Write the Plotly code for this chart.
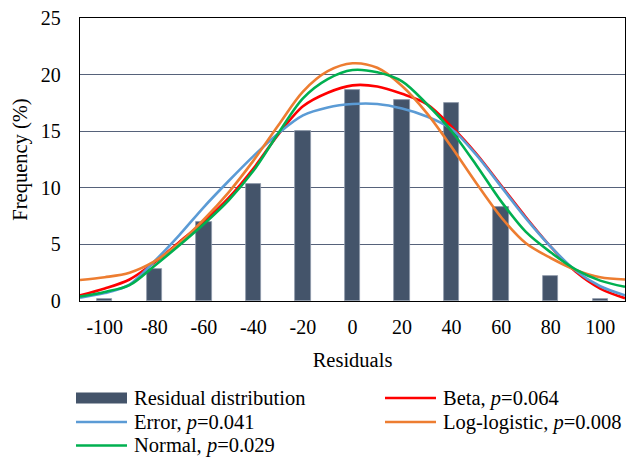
import plotly.graph_objects as go

# Residual histogram (percentage of observations per 20-unit bin)
bin_centers = [-100, -80, -60, -40, -20, 0, 20, 40, 60, 80, 100]
frequency = [0.2, 2.8, 7.0, 10.3, 15.0, 18.6, 17.8, 17.5, 8.3, 2.2, 0.15]

# Fitted distribution curves, sampled along the residual axis
curve_x = [-110, -100, -90, -80, -70, -60, -50, -40, -30, -20, -10, 0,
           10, 20, 30, 40, 50, 60, 70, 80, 90, 100, 110]
beta = [0.5, 1.1, 1.9, 3.4, 5.2, 7.0, 9.1, 11.7, 14.7, 17.2, 18.4, 19.05,
        18.95, 18.3, 17.4, 15.4, 13.0, 10.2, 7.4, 4.8, 2.6, 1.1, 0.25]
error = [0.3, 0.7, 1.45, 3.5, 5.8, 8.3, 10.6, 12.8, 14.8, 16.4, 17.1, 17.4,
         17.4, 17.0, 16.3, 15.2, 12.9, 10.1, 7.3, 4.8, 2.7, 1.3, 0.5]
log_logistic = [1.85, 2.1, 2.5, 3.5, 5.1, 7.2, 9.6, 12.4, 15.5, 18.5, 20.3, 21.0,
                20.6, 19.0, 16.6, 13.6, 10.4, 7.4, 5.1, 3.8, 2.75, 2.1, 1.9]
normal = [0.4, 0.8, 1.4, 3.1, 4.9, 6.8, 8.9, 11.5, 14.8, 17.9, 19.6, 20.4,
          20.2, 19.4, 17.4, 15.0, 12.0, 8.8, 6.1, 4.3, 2.8, 1.8, 1.25]

x_ticks = [-100, -80, -60, -40, -20, 0, 20, 40, 60, 80, 100]
y_ticks = [0, 5, 10, 15, 20, 25]

BAR_COLOR = "#44546A"
FONT = "Liberation Serif, Times New Roman, serif"

curves = [
    ("Beta, <i>p</i>=0.064", beta, "#FF0000"),
    ("Error, <i>p</i>=0.041", error, "#5B9BD5"),
    ("Log-logistic, <i>p</i>=0.008", log_logistic, "#ED7D31"),
    ("Normal, <i>p</i>=0.029", normal, "#00B050"),
]

fig = go.Figure()
fig.add_trace(go.Bar(
    x=bin_centers, y=frequency, width=6.2,
    marker=dict(color=BAR_COLOR, line=dict(color="#8E99AA", width=0.8)),
    name="Residual distribution", showlegend=False,
))
for name, vals, color in curves:
    fig.add_trace(go.Scatter(
        x=curve_x, y=vals, mode="lines", name=name, showlegend=False,
        line=dict(color=color, width=2.6, shape="spline", smoothing=0.9),
    ))

# ---- page geometry (pixels) ----
W, H = 626, 458
ML, MR, MT, MB = 80, 1, 18, 157
PW, PH = W - ML - MR, H - MT - MB


def px(xp):
    return (xp - ML) / PW


def py(yp):
    return (H - MB - yp) / PH


# ---- legend: two columns, three rows ----
legend_items = [("Residual distribution", BAR_COLOR, "bar")] + \
    [(n, c, "line") for n, _, c in curves]
col_x = [76, 385]
row_y = [398, 422, 445.5]
swatch_w = 51
shapes, annotations = [], []
for i, (label, color, kind) in enumerate(legend_items):
    cx = col_x[i % 2]
    cy = row_y[i // 2]
    if kind == "bar":
        shapes.append(dict(type="rect", xref="paper", yref="paper",
                           x0=px(cx), x1=px(cx + swatch_w),
                           y0=py(cy + 5.5), y1=py(cy - 5.5),
                           fillcolor=color, line=dict(width=0)))
    else:
        shapes.append(dict(type="line", xref="paper", yref="paper",
                           x0=px(cx), x1=px(cx + swatch_w),
                           y0=py(cy), y1=py(cy),
                           line=dict(color=color, width=2.6)))
    annotations.append(dict(text=label, xref="paper", yref="paper",
                            x=px(cx + swatch_w + 5), y=py(cy),
                            xanchor="left", yanchor="middle", showarrow=False,
                            font=dict(family=FONT, size=20.5, color="#000000")))

fig.update_layout(
    width=W, height=H,
    margin=dict(l=ML, r=MR, t=MT, b=MB),
    paper_bgcolor="white", plot_bgcolor="white",
    font=dict(family=FONT, size=20, color="#000000"),
    showlegend=False,
    bargap=0,
    shapes=shapes,
    annotations=annotations,
)
fig.update_xaxes(
    range=[-110, 110], tickvals=x_ticks, ticktext=[str(v) for v in x_ticks],
    showgrid=False, zeroline=False, ticks="",
    showline=True, linecolor="#000000", linewidth=1.3, mirror=True,
    ticklabelstandoff=8,
    title=dict(text="Residuals", standoff=15, font=dict(size=20.5)),
)
fig.update_yaxes(
    range=[0, 25], tickvals=y_ticks,
    showgrid=True, gridcolor="#56627A", gridwidth=1, zeroline=False, ticks="",
    showline=True, linecolor="#000000", linewidth=1.3, mirror=True,
    ticklabelstandoff=14,
    title=dict(text="Frequency (%)", standoff=7, font=dict(size=20.5)),
)

fig.write_html("out.html")
